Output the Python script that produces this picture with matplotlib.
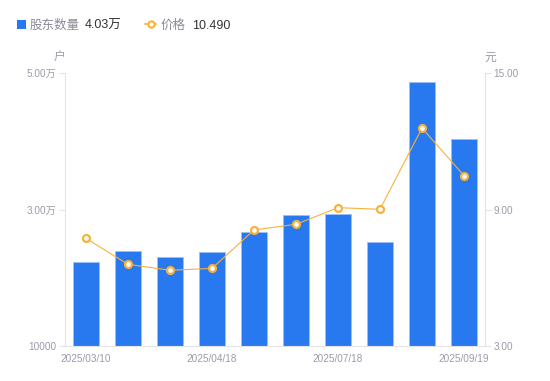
import matplotlib
matplotlib.use("Agg")
import matplotlib.pyplot as plt
from matplotlib.patches import Rectangle
from matplotlib.lines import Line2D

plt.rcParams['font.family'] = ['Liberation Sans', 'Noto Sans CJK SC', 'DejaVu Sans']

dates = ["2025/03/10", "", "", "2025/04/18", "", "", "2025/07/18", "", "", "2025/09/19"]
holders = [2.23, 2.39, 2.31, 2.37, 2.67, 2.92, 2.93, 2.52, 4.87, 4.03]  # 万户
price = [7.73, 6.59, 6.33, 6.41, 8.10, 8.35, 9.08, 9.01, 12.58, 10.49]
left_ticks = [1, 3, 5]
left_labels = ["10000", "3.00万", "5.00万"]
right_ticks = [3, 9, 15]
right_labels = ["3.00", "9.00", "15.00"]
legend_names = ["股东数量", "价格"]
legend_values = ["4.03万", "10.490"]

BLUE = "#2878F0"
ORANGE = "#F7B23B"
GRAY = "#9A9AAA"
AXIS = "#E3E3EA"

fig = plt.figure(figsize=(5.5, 3.81), dpi=100)
ax = fig.add_axes([65/550, 35/381, 420/550, 273/381])
x = list(range(len(holders)))
ax.bar(x, holders, width=0.6, bottom=0, color=BLUE, edgecolor="#9cc0f8", linewidth=0.6, zorder=2)
ax.set_xlim(-0.5, len(holders) - 0.5)
ax.set_ylim(1, 5)
ax.set_yticks(left_ticks)
ax.set_yticklabels(left_labels)
ax.set_xticks(x)
ax.set_xticklabels(dates)
ax.tick_params(axis='x', length=0, pad=6, labelsize=7.2, labelcolor=GRAY)
ax.tick_params(axis='y', length=4, width=0.8, color=AXIS, pad=2, labelsize=7.2, labelcolor=GRAY)
for s in ['top']:
    ax.spines[s].set_visible(False)
for s in ['left', 'bottom', 'right']:
    ax.spines[s].set_color(AXIS)
    ax.spines[s].set_linewidth(0.8)

ax2 = ax.twinx()
ax2.plot(x, price, color=ORANGE, linewidth=0.8, marker='o', markersize=5,
         markerfacecolor='white', markeredgecolor=ORANGE, markeredgewidth=1.6, zorder=3)
ax2.set_ylim(3, 15)
ax2.set_yticks(right_ticks)
ax2.set_yticklabels(right_labels)
ax2.tick_params(axis='y', length=4, width=0.8, color=AXIS, pad=2, labelsize=7.2, labelcolor=GRAY)
for s in ['top', 'left', 'bottom']:
    ax2.spines[s].set_visible(False)
ax2.spines['right'].set_color(AXIS)
ax2.spines['right'].set_linewidth(0.8)

# unit labels
fig.text(59/550, 1 - 58/381, "户", ha='center', va='center', fontsize=8.5, color=GRAY)
fig.text(490/550, 1 - 58/381, "元", ha='center', va='center', fontsize=8.5, color=GRAY)

# legend
ly = 1 - 24/381
ty = 1 - 26/381
fig.patches.append(Rectangle((17/550, 1 - 28.5/381), 8.5/550, 8.5/381, transform=fig.transFigure,
                             facecolor=BLUE, edgecolor='none'))
fig.text(30/550, ty, legend_names[0], ha='left', va='center', fontsize=9, color="#8A8A96")
fig.text(85/550, ty, legend_values[0], ha='left', va='center', fontsize=9, color="#333333")
fig.lines.append(Line2D([145/550, 156/550], [ly, ly], transform=fig.transFigure, color=ORANGE, linewidth=1.2))
fig.lines.append(Line2D([150.5/550], [ly], transform=fig.transFigure, marker='o', markersize=4.5,
                        markerfacecolor='white', markeredgecolor=ORANGE, markeredgewidth=1.5))
fig.text(161/550, ty, legend_names[1], ha='left', va='center', fontsize=9, color="#8A8A96")
fig.text(192/550, ty, legend_values[1], ha='left', va='center', fontsize=9, color="#333333")

fig.savefig("out.png", dpi=100)
